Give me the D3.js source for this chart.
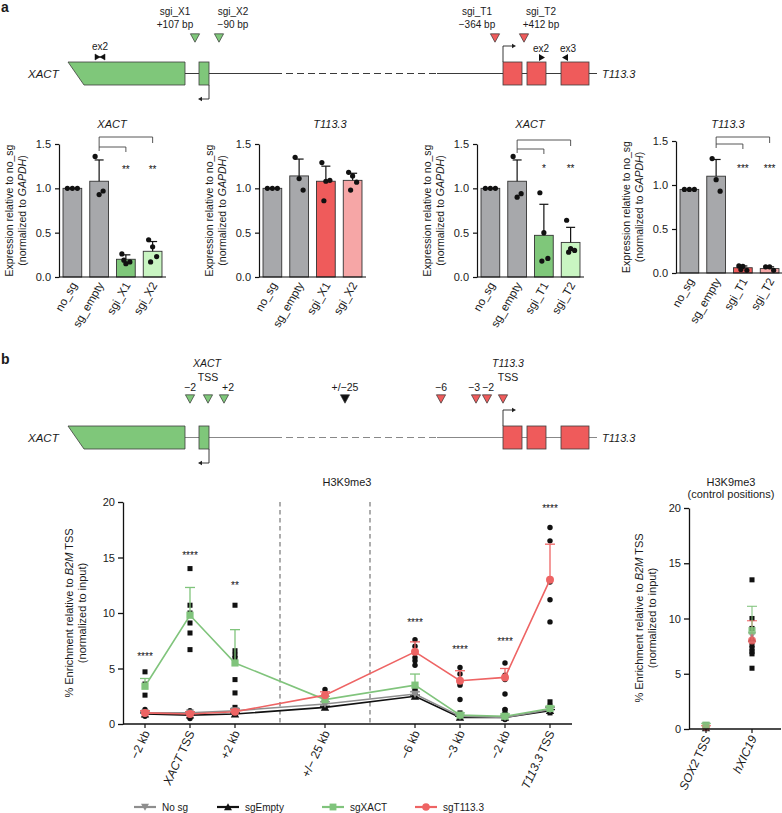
<!DOCTYPE html>
<html><head><meta charset="utf-8">
<script src="https://cdn.jsdelivr.net/npm/d3@7"></script>
<style>body{margin:0;background:#fff}text{font-family:"Liberation Sans",Arial,Helvetica,sans-serif;fill:#1a1a1a}</style>
</head><body><svg id="c" width="782" height="813"></svg>
<script>
// ---------------- DATA ----------------
const barTicks = [0, 0.5, 1.0, 1.5];
const catsX = ["no_sg", "sg_empty", "sgi_X1", "sgi_X2"];
const catsT = ["no_sg", "sg_empty", "sgi_T1", "sgi_T2"];
// chart 1: XACT expression, XACT sgRNAs
const c1Mean = [1.0, 1.08, 0.20, 0.29];
const c1Err = [null, 1.32, 0.25, 0.40];
const c1Pts = [[1, 1, 1], [1.36, 0.93, 0.97], [0.26, 0.15, 0.17, 0.19], [0.42, 0.34, 0.23, 0.17]];
const c1Stars = [null, null, "**", "**"];
// chart 2: T113.3 expression, XACT sgRNAs
const c2Mean = [1.0, 1.14, 1.08, 1.09];
const c2Err = [null, 1.33, 1.25, 1.17];
const c2Pts = [[1, 1, 1], [1.35, 1.11, 0.98], [1.29, 1.08, 1.09, 0.86], [1.18, 1.14, 1.07, 0.98]];
// chart 3: XACT expression, T113.3 sgRNAs
const c3Mean = [1.0, 1.08, 0.47, 0.39];
const c3Err = [null, 1.32, 0.82, 0.56];
const c3Pts = [[1, 1, 1], [1.36, 0.90, 0.94], [0.95, 0.50, 0.21, 0.18], [0.64, 0.32, 0.30, 0.28]];
const c3Stars = [null, null, "*", "**"];
// chart 4: T113.3 expression, T113.3 sgRNAs
const c4Mean = [0.95, 1.10, 0.06, 0.05];
const c4Err = [null, 1.29, 0.08, 0.07];
const c4Pts = [[0.95, 0.95, 0.95], [1.30, 1.06, 0.93], [0.08, 0.075, 0.03, 0.04], [0.07, 0.07, 0.03]];
const c4Stars = [null, null, "***", "***"];

// panel b line chart
const posCats = ["\u22122 kb", "XACT TSS", "+2 kb", "+/\u2212 25 kb", "\u22126 kb", "\u22123 kb", "\u22122 kb", "T113.3 TSS"];
const posIdx = [0, 1, 2, 4, 6, 7, 8, 9];
const dividerIdx = [3, 5];
const mainTicks = [0, 5, 10, 15, 20];
const noSg = [1.0, 1.0, 1.2, 1.8, 2.7, 0.7, 0.6, 1.3];
const noSgErr = [1.1, 1.1, 1.4, 2.0, 2.9, 0.8, 0.7, 1.5];
const sgEmpty = [0.9, 0.8, 0.9, 1.5, 2.5, 0.6, 0.6, 1.2];
const sgEmptyErr = [1.0, 0.9, 1.0, 1.6, 2.6, 0.7, 0.7, 1.3];
const sgXACT = [3.4, 9.8, 5.5, 2.2, 3.5, 0.8, 0.7, 1.4];
const sgXACTErr = [4.1, 12.3, 8.5, 2.5, 4.5, 1.0, 0.9, 1.6];
const sgT113 = [1.0, 0.9, 1.1, 2.6, 6.5, 3.9, 4.2, 13.0];
const sgT113Err = [1.2, 1.1, 1.3, 2.9, 7.4, 4.8, 5.0, 16.2];
const sgXACTReps = [[4.7, 3.6, 2.6], [14.0, 10.7, 10.0, 9.1, 8.2, 6.7], [10.7, 6.6, 6.2, 5.9, 4.0, 2.8, 1.5], [2.6, 2.0], [3.2, 3.0, 2.6], [1.0, 0.7], [1.2, 0.8], [2.0, 1.6, 1.0]];
const sgT113Reps = [[1.3, 0.9, 0.7], [1.2, 0.6, 0.5], [1.2, 1.0], [3.1, 2.8, 2.5, 2.3], [7.6, 7.0, 6.5, 6.0, 5.7, 5.3], [5.1, 4.5, 3.7, 3.5, 2.2], [5.5, 4.4, 4.0, 2.7, 1.3, 0.9, 0.4], [17.7, 16.5, 13.0, 12.8, 11.2, 9.2]];
const mainStars = ["****", "****", "**", null, "****", "****", "****", "****"];
const mainStarY = [6.0, 15.1, 12.4, null, 9.1, 6.7, 7.4, 19.4];

// control positions
const ctrlCats = ["SOX2 TSS", "hXIC19"];
const ctrlNoSg = [0.3, 8.5];
const ctrlSgEmpty = [0.1, 8.2];
const ctrlSgXACT = [0.35, 8.9];
const ctrlSgXACTErr = [0.5, 11.1];
const ctrlSgT113 = [0.2, 8.0];
const ctrlSgT113Err = [0.3, 9.8];
const ctrlReps = [[0.4, 0.2, 0.1], [13.5, 10.0, 9.1, 7.6, 7.3, 7.0, 6.8, 5.5]];

const seriesNames = ["No sg", "sgEmpty", "sgXACT", "sgT113.3"];

// ---------------- STYLE ----------------
const GRAY = "#a7a8ab", GREEN = "#7fc77a", LGREEN = "#c9f5c2", RED = "#ef5b5b", PINK = "#f6a6a6";
const LGRAY = "#8e8e8e", SGREEN = "#80c47c", SRED = "#ee6464";
const svg = d3.select("#c");

// panel letters
svg.append("text").attr("x", 1).attr("y", 12).attr("font-size", 14).attr("font-weight", "bold").text("a");
svg.append("text").attr("x", 1).attr("y", 364).attr("font-size", 14).attr("font-weight", "bold").text("b");

// ---------------- GENE DIAGRAMS ----------------
const gx = d3.scaleLinear().domain([0, 529]).range([68, 597]);
const xactEx1 = [0, 117], xactEx2 = [131, 141];
const dashSeg = [207, 369];
const tExons = [[435, 454], [459, 478], [493, 521]];

function downTri(g, cx, cy, fill) {
  g.append("path").attr("d", `M${cx - 4.6},${cy - 4.2}L${cx + 4.6},${cy - 4.2}L${cx},${cy + 4.2}Z`)
    .attr("fill", fill).attr("stroke", "#333").attr("stroke-width", 0.7);
}

function gene(yTop, lineCol) {
  const g = svg.append("g");
  const h = 23, ym = yTop + h / 2;
  const seg = (a, b, dash) => g.append("line").attr("x1", gx(a)).attr("x2", gx(b)).attr("y1", ym).attr("y2", ym)
    .attr("stroke", lineCol).attr("stroke-width", 1).attr("stroke-dasharray", dash || null);
  seg(xactEx1[1], xactEx2[0]); seg(xactEx2[1], dashSeg[0]); seg(dashSeg[0], dashSeg[1], "7,4");
  seg(dashSeg[1], tExons[0][0]); seg(tExons[0][1], tExons[1][0]); seg(tExons[1][1], tExons[2][0]); seg(tExons[2][1], 529);
  g.append("path").attr("d", `M${gx(xactEx1[0])},${yTop}L${gx(xactEx1[1])},${yTop}L${gx(xactEx1[1])},${yTop + h}L${gx(16)},${yTop + h}Z`)
    .attr("fill", GREEN).attr("stroke", "#3d3d3d").attr("stroke-width", 0.8);
  g.append("rect").attr("x", gx(xactEx2[0])).attr("y", yTop).attr("width", gx(xactEx2[1]) - gx(xactEx2[0])).attr("height", h)
    .attr("fill", GREEN).attr("stroke", "#3d3d3d").attr("stroke-width", 0.8);
  tExons.forEach(e => g.append("rect").attr("x", gx(e[0])).attr("y", yTop).attr("width", gx(e[1]) - gx(e[0])).attr("height", h)
    .attr("fill", RED).attr("stroke", "#3d3d3d").attr("stroke-width", 0.8));
  const ax = gx(xactEx2[1]);
  g.append("path").attr("d", `M${ax},${yTop + h}V${yTop + h + 14}H${gx(xactEx2[0]) + 2}`).attr("fill", "none").attr("stroke", "#222").attr("stroke-width", 0.9);
  g.append("path").attr("d", `M${gx(xactEx2[0]) - 1},${yTop + h + 14}l4,-2.2v4.4Z`).attr("fill", "#222");
  const tx = gx(tExons[0][0]);
  g.append("path").attr("d", `M${tx},${yTop}V${yTop - 16}H${tx + 10}`).attr("fill", "none").attr("stroke", "#222").attr("stroke-width", 0.9);
  g.append("path").attr("d", `M${tx + 13},${yTop - 16}l-4,-2.2v4.4Z`).attr("fill", "#222");
  g.append("text").attr("x", 28).attr("y", ym + 4.5).attr("font-size", 11.5).attr("font-style", "italic").text("XACT");
  g.append("text").attr("x", 602).attr("y", ym + 4).attr("font-size", 11).attr("font-style", "italic").text("T113.3");
  return g;
}

// panel a gene
const ga = gene(62, "#3a3a3a");
const sgA = [{ n: "sgi_X1", p: "+107 bp", pos: 127, lx: 175, c: GREEN }, { n: "sgi_X2", p: "\u221290 bp", pos: 151, lx: 233, c: GREEN },
{ n: "sgi_T1", p: "\u2212364 bp", pos: 427, lx: 477, c: RED }, { n: "sgi_T2", p: "+412 bp", pos: 456, lx: 541, c: RED }];
sgA.forEach(s => {
  ga.append("text").attr("x", s.lx).attr("y", 15).attr("font-size", 10).attr("text-anchor", "middle").text(s.n);
  ga.append("text").attr("x", s.lx).attr("y", 28).attr("font-size", 10).attr("text-anchor", "middle").text(s.p);
  downTri(ga, gx(s.pos), 38, s.c);
});
ga.append("text").attr("x", 100).attr("y", 50).attr("font-size", 10).attr("text-anchor", "middle").text("ex2");
ga.append("path").attr("d", "M95,54L100,57L95,60Z M105,54L100,57L105,60Z").attr("fill", "#111").attr("stroke", "#111").attr("stroke-width", 0.5);
ga.append("line").attr("x1", 95).attr("x2", 105).attr("y1", 57).attr("y2", 57).attr("stroke", "#111");
ga.append("text").attr("x", 541).attr("y", 52).attr("font-size", 10).attr("text-anchor", "middle").text("ex2");
ga.append("path").attr("d", "M539,54L545,57.5L539,61Z").attr("fill", "#111");
ga.append("text").attr("x", 568).attr("y", 52).attr("font-size", 10).attr("text-anchor", "middle").text("ex3");
ga.append("path").attr("d", "M568,54L562,57.5L568,61Z").attr("fill", "#111");

// panel b gene
const gb = gene(426, "#888");
gb.append("text").attr("x", 207).attr("y", 367).attr("font-size", 10.5).attr("font-style", "italic").attr("text-anchor", "middle").text("XACT");
gb.append("text").attr("x", 208).attr("y", 381).attr("font-size", 10.5).attr("text-anchor", "middle").text("TSS");
gb.append("text").attr("x", 508).attr("y", 367).attr("font-size", 10.5).attr("font-style", "italic").attr("text-anchor", "middle").text("T113.3");
gb.append("text").attr("x", 508).attr("y", 381).attr("font-size", 10.5).attr("text-anchor", "middle").text("TSS");
const sgB = [{ t: "\u22122", pos: 122, lx: 190, c: GREEN }, { t: "", pos: 140, c: GREEN }, { t: "+2", pos: 156, lx: 228, c: GREEN },
{ t: "+/\u221225", pos: 277, lx: 345, c: "#111" }, { t: "\u22126", pos: 373, lx: 441, c: RED }, { t: "\u22123", pos: 408, lx: 474, c: RED },
{ t: "\u22122", pos: 419, lx: 488, c: RED }, { t: "", pos: 435, c: RED }];
sgB.forEach(s => {
  if (s.t) gb.append("text").attr("x", s.lx).attr("y", 391).attr("font-size", 10.5).attr("text-anchor", "middle").text(s.t);
  downTri(gb, gx(s.pos), 399, s.c);
});

// ---------------- BAR CHARTS ----------------
function barChart(cfg) {
  const g = svg.append("g");
  const x = d3.scaleBand().domain(cfg.cats).range([cfg.x0, cfg.x0 + 107]).paddingInner(0.3).paddingOuter(0.15);
  const y = d3.scaleLinear().domain([0, 1.5]).range([cfg.yb, cfg.yt]);
  const cx = d => x(d) + x.bandwidth() / 2;
  cfg.cats.forEach((c, i) => {
    g.append("rect").attr("x", x(c)).attr("y", y(cfg.mean[i])).attr("width", x.bandwidth()).attr("height", y(0) - y(cfg.mean[i]))
      .attr("fill", cfg.colors[i]).attr("stroke", "#333").attr("stroke-width", 0.9);
    if (cfg.err[i] != null) {
      g.append("line").attr("x1", cx(c)).attr("x2", cx(c)).attr("y1", y(cfg.mean[i])).attr("y2", y(cfg.err[i])).attr("stroke", "#111").attr("stroke-width", 1.2);
      g.append("line").attr("x1", cx(c) - 4.5).attr("x2", cx(c) + 4.5).attr("y1", y(cfg.err[i])).attr("y2", y(cfg.err[i])).attr("stroke", "#111").attr("stroke-width", 1.2);
    }
    cfg.pts[i].forEach((v, j) => {
      const off = cfg.pts[i].length === 3 && i === 0 ? (j - 1) * 5 : ((j % 3) - 1) * 4 + (j >= 3 ? 2 : 0);
      g.append("circle").attr("cx", cx(c) + off).attr("cy", y(v)).attr("r", 2.6).attr("fill", "#111");
    });
    if (cfg.stars && cfg.stars[i]) g.append("text").attr("x", cx(c)).attr("y", cfg.starY).attr("font-size", 10).attr("text-anchor", "middle").style("fill", "#111").text(cfg.stars[i]);
    g.append("text").attr("transform", `translate(${cx(c) + 5},${cfg.yb + 8}) rotate(-60)`).attr("text-anchor", "end").attr("font-size", 11.5).text(c);
  });
  const ya = g.append("g").attr("transform", `translate(${cfg.x0},0)`)
    .call(d3.axisLeft(y).tickValues(barTicks).tickFormat(d3.format(".1f")).tickSize(4).tickSizeOuter(0));
  ya.select(".domain").attr("stroke", "#111").attr("stroke-width", 1.2);
  ya.selectAll(".tick line").attr("stroke", "#111").attr("stroke-width", 1.2);
  ya.selectAll("text").attr("font-size", 11).attr("font-family", '"Liberation Sans",Arial,sans-serif').attr("fill", "#1a1a1a").attr("dx", -1);
  g.append("line").attr("x1", cfg.x0).attr("x2", cfg.x0 + 107).attr("y1", y(0)).attr("y2", y(0)).attr("stroke", "#111").attr("stroke-width", 1.2);
  g.append("text").attr("x", cfg.tx).attr("y", 128).attr("font-size", 11).attr("font-style", "italic").attr("text-anchor", "middle").text(cfg.title);
  const lx = cfg.x0 - 46, ly = (cfg.yb + cfg.yt) / 2;
  g.append("text").attr("transform", `translate(${lx},${ly}) rotate(-90)`).attr("text-anchor", "middle").attr("font-size", 10.5).text("Expression relative to no_sg");
  const t2 = g.append("text").attr("transform", `translate(${lx + 12.5},${ly}) rotate(-90)`).attr("text-anchor", "middle").attr("font-size", 10.5);
  t2.append("tspan").text("(normalized to ");
  t2.append("tspan").attr("font-style", "italic").text("GAPDH");
  t2.append("tspan").text(")");
  if (cfg.brackets) {
    const l = cx(cfg.cats[1]), r1 = cx(cfg.cats[2]), r2 = cx(cfg.cats[3]);
    const b = cfg.brackets;
    g.append("path").attr("d", `M${l},${b[1] + 4}V${b[1]}H${r1}V${b[1] + 5}`).attr("fill", "none").attr("stroke", "#444").attr("stroke-width", 0.9);
    g.append("path").attr("d", `M${l},${b[1]}V${b[0]}H${r2}V${b[0] + 6}`).attr("fill", "none").attr("stroke", "#444").attr("stroke-width", 0.9);
  }
}
barChart({ cats: catsX, mean: c1Mean, err: c1Err, pts: c1Pts, stars: c1Stars, starY: 173, colors: [GRAY, GRAY, GREEN, LGREEN], x0: 59, yb: 277, yt: 144, tx: 112, title: "XACT", brackets: [137, 147] });
barChart({ cats: catsX, mean: c2Mean, err: c2Err, pts: c2Pts, colors: [GRAY, GRAY, RED, PINK], x0: 259, yb: 277, yt: 144, tx: 330, title: "T113.3" });
barChart({ cats: catsT, mean: c3Mean, err: c3Err, pts: c3Pts, stars: c3Stars, starY: 172, colors: [GRAY, GRAY, GREEN, LGREEN], x0: 477, yb: 277, yt: 144, tx: 530, title: "XACT", brackets: [140, 149] });
barChart({ cats: catsT, mean: c4Mean, err: c4Err, pts: c4Pts, stars: c4Stars, starY: 172, colors: [GRAY, GRAY, RED, PINK], x0: 676, yb: 273, yt: 141, tx: 728, title: "T113.3", brackets: [137, 144] });

// ---------------- LINE CHART ----------------
const mx = d3.scaleLinear().domain([0, 9]).range([145, 550]);
const my = d3.scaleLinear().domain([0, 20]).range([724, 502]);
const mg = svg.append("g");
dividerIdx.forEach(d => mg.append("line").attr("x1", mx(d)).attr("x2", mx(d)).attr("y1", my(20)).attr("y2", my(0))
  .attr("stroke", "#8a8a8a").attr("stroke-width", 1.4).attr("stroke-dasharray", "4.5,3.5"));

function marker(g, type, x, y, color, s) {
  s = s || 1;
  if (type === "sq") g.append("rect").attr("x", x - 3.6 * s).attr("y", y - 3.6 * s).attr("width", 7.2 * s).attr("height", 7.2 * s).attr("fill", color);
  else if (type === "ci") g.append("circle").attr("cx", x).attr("cy", y).attr("r", 4 * s).attr("fill", color);
  else if (type === "up") g.append("path").attr("d", `M${x},${y - 4 * s}L${x + 4.2 * s},${y + 3.4 * s}L${x - 4.2 * s},${y + 3.4 * s}Z`).attr("fill", color);
  else g.append("path").attr("d", `M${x},${y + 4 * s}L${x + 4.2 * s},${y - 3.4 * s}L${x - 4.2 * s},${y - 3.4 * s}Z`).attr("fill", color);
}
posIdx.forEach((p, i) => {
  sgXACTReps[i].forEach(v => marker(mg, "sq", mx(p), my(v), "#111", 0.7));
  sgT113Reps[i].forEach(v => marker(mg, "ci", mx(p), my(v), "#111", 0.68));
});
const series = [
  { m: sgEmpty, e: sgEmptyErr, c: "#111", t: "up" },
  { m: noSg, e: noSgErr, c: LGRAY, t: "dn" },
  { m: sgXACT, e: sgXACTErr, c: SGREEN, t: "sq" },
  { m: sgT113, e: sgT113Err, c: SRED, t: "ci" }];
series.forEach(s => {
  const line = d3.line().x((d, i) => mx(posIdx[i])).y(d => my(d));
  mg.append("path").attr("d", line(s.m)).attr("fill", "none").attr("stroke", s.c).attr("stroke-width", 1.6);
  s.m.forEach((v, i) => {
    const X = mx(posIdx[i]);
    mg.append("line").attr("x1", X).attr("x2", X).attr("y1", my(v)).attr("y2", my(s.e[i])).attr("stroke", s.c).attr("stroke-width", 1.3);
    mg.append("line").attr("x1", X - 5).attr("x2", X + 5).attr("y1", my(s.e[i])).attr("y2", my(s.e[i])).attr("stroke", s.c).attr("stroke-width", 1.3);
    marker(mg, s.t, X, my(v), s.c);
  });
});
posIdx.forEach((p, i) => {
  if (mainStars[i]) mg.append("text").attr("x", mx(p)).attr("y", my(mainStarY[i]) + 3).attr("font-size", 10).attr("text-anchor", "middle").style("fill", "#111").text(mainStars[i]);
});
const may = mg.append("g").attr("transform", "translate(123,0)").call(d3.axisLeft(my).tickValues(mainTicks).tickSize(5).tickSizeOuter(0));
may.select(".domain").attr("stroke", "#111").attr("stroke-width", 1.3);
may.selectAll(".tick line").attr("stroke", "#111").attr("stroke-width", 1.3);
may.selectAll("text").attr("font-size", 11).attr("font-family", '"Liberation Sans",Arial,sans-serif').attr("fill", "#1a1a1a");
mg.append("line").attr("x1", 123).attr("x2", 572).attr("y1", my(0)).attr("y2", my(0)).attr("stroke", "#111").attr("stroke-width", 1.3);
posIdx.forEach((p, i) => {
  mg.append("line").attr("x1", mx(p)).attr("x2", mx(p)).attr("y1", my(0)).attr("y2", my(0) + 4).attr("stroke", "#111").attr("stroke-width", 1.2);
  const t = mg.append("text").attr("transform", `translate(${mx(p) + 5},${my(0) + 9}) rotate(-65)`).attr("text-anchor", "end").attr("font-size", 12);
  const lab = posCats[i];
  if (lab.endsWith(" TSS")) { t.append("tspan").attr("font-style", "italic").text(lab.replace(" TSS", "")); t.append("tspan").text(" TSS"); }
  else t.text(lab);
});
mg.append("text").attr("x", 347).attr("y", 486).attr("font-size", 11).attr("text-anchor", "middle").text("H3K9me3");
function enrichLabel(g, x, y) {
  const t = g.append("text").attr("transform", `translate(${x},${y}) rotate(-90)`).attr("text-anchor", "middle").attr("font-size", 11);
  t.append("tspan").text("% Enrichment relative to ");
  t.append("tspan").attr("font-style", "italic").text("B2M");
  t.append("tspan").text(" TSS");
  g.append("text").attr("transform", `translate(${x + 13},${y}) rotate(-90)`).attr("text-anchor", "middle").attr("font-size", 11).text("(normalized to input)");
}
enrichLabel(mg, 73, 613);

// ---------------- CONTROL CHART ----------------
const cx = d3.scaleLinear().domain([0, 1]).range([706, 752]);
const cy = d3.scaleLinear().domain([0, 20]).range([729, 508]);
const cg = svg.append("g");
ctrlReps.forEach((r, i) => r.forEach(v => marker(cg, "sq", cx(i), cy(v), "#111", 0.7)));
const cser = [
  { m: ctrlSgEmpty, c: "#111", t: "up" }, { m: ctrlNoSg, c: LGRAY, t: "dn" },
  { m: ctrlSgT113, e: ctrlSgT113Err, c: SRED, t: "ci" }, { m: ctrlSgXACT, e: ctrlSgXACTErr, c: SGREEN, t: "sq" }];
cser.forEach(s => s.m.forEach((v, i) => {
  const X = cx(i);
  if (s.e) {
    cg.append("line").attr("x1", X).attr("x2", X).attr("y1", cy(v)).attr("y2", cy(s.e[i])).attr("stroke", s.c).attr("stroke-width", 1.3).attr("opacity", 0.8);
    cg.append("line").attr("x1", X - 5).attr("x2", X + 5).attr("y1", cy(s.e[i])).attr("y2", cy(s.e[i])).attr("stroke", s.c).attr("stroke-width", 1.3).attr("opacity", 0.8);
  }
  const gg = cg.append("g").attr("opacity", 0.85);
  marker(gg, s.t, X, cy(v), s.c);
}));
const cay = cg.append("g").attr("transform", "translate(689,0)").call(d3.axisLeft(cy).tickValues(mainTicks).tickSize(5).tickSizeOuter(0));
cay.select(".domain").attr("stroke", "#111").attr("stroke-width", 1.3);
cay.selectAll(".tick line").attr("stroke", "#111").attr("stroke-width", 1.3);
cay.selectAll("text").attr("font-size", 11).attr("font-family", '"Liberation Sans",Arial,sans-serif').attr("fill", "#1a1a1a");
cg.append("line").attr("x1", 689).attr("x2", 781).attr("y1", cy(0)).attr("y2", cy(0)).attr("stroke", "#111").attr("stroke-width", 1.3);
ctrlCats.forEach((c, i) => {
  cg.append("line").attr("x1", cx(i)).attr("x2", cx(i)).attr("y1", cy(0)).attr("y2", cy(0) + 4).attr("stroke", "#111").attr("stroke-width", 1.2);
  const t = cg.append("text").attr("transform", `translate(${cx(i) + 5},${cy(0) + 9}) rotate(-65)`).attr("text-anchor", "end").attr("font-size", 12);
  if (i === 0) { t.append("tspan").attr("font-style", "italic").text("SOX2"); t.append("tspan").text(" TSS"); }
  else t.append("tspan").attr("font-style", "italic").text(c);
});
cg.append("text").attr("x", 731).attr("y", 486).attr("font-size", 11).attr("text-anchor", "middle").text("H3K9me3");
cg.append("text").attr("x", 731).attr("y", 498).attr("font-size", 11).attr("text-anchor", "middle").text("(control positions)");
enrichLabel(cg, 643, 618);

// ---------------- LEGEND ----------------
const lg = svg.append("g");
const legX = [145, 228, 333, 426];
const legC = [LGRAY, "#111", SGREEN, SRED], legT = ["dn", "up", "sq", "ci"];
seriesNames.forEach((n, i) => {
  lg.append("line").attr("x1", legX[i] - 11).attr("x2", legX[i] + 11).attr("y1", 807).attr("y2", 807).attr("stroke", legC[i]).attr("stroke-width", 2.2);
  marker(lg, legT[i], legX[i], 807, legC[i], 0.95);
  lg.append("text").attr("x", legX[i] + 17).attr("y", 811).attr("font-size", 10).text(n);
});
</script></body></html>
